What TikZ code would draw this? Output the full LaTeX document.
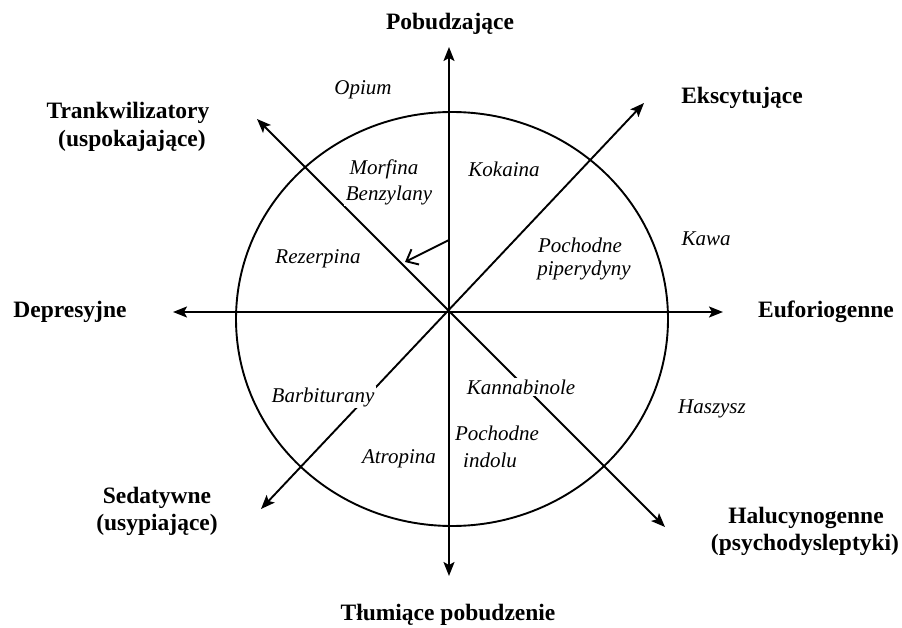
\documentclass[tikz,border=0pt]{standalone}
\usepackage{fontspec}
\setmainfont{Liberation Serif}
\usetikzlibrary{arrows.meta}
\begin{document}
\begin{tikzpicture}[x=1pt,y=-1pt,
  axis/.style={line width=1.9pt,{Stealth[length=14pt,width=11pt,inset=3pt]}-{Stealth[length=14pt,width=11pt,inset=3pt]}},
  ring/.style={line width=1.9pt},
  small/.style={line width=1.9pt,-{Straight Barb[length=10pt,width=17pt,line width=1.9pt]}},
  cat/.style={font=\fontsize{23.5}{27}\selectfont\bfseries, inner sep=0pt, align=center},
  drug/.style={font=\fontsize{21}{26}\selectfont\itshape, inner sep=1.5pt, fill=white, align=center}]
\useasboundingbox (0,0) rectangle (902,628);
% circle
\draw[ring] (452,319) ellipse [x radius=216, y radius=207];
% axis end points
\coordinate (C) at (449,312);
\coordinate (N) at (449,47);
\coordinate (S) at (449,576);
\coordinate (W) at (173,312);
\coordinate (E) at (723,312);
\coordinate (NW) at (257,119);
\coordinate (SE) at (665,527);
\coordinate (NE) at (644,103);
\coordinate (SW) at (261,509);
\draw[axis] (S) -- (N);
\draw[axis] (W) -- (E);
\draw[axis] (SE) -- (NW);
\draw[axis] (SW) -- (NE);
\coordinate (a1) at (449,240);
\coordinate (a2) at (405,262);
\draw[small] (a1) -- (a2);
% category labels
\node[cat] (pob) at (450,24) {Pobudzające};
\node[cat] (tr1) at (128,113) {Trankwilizatory};
\node[cat] (tr2) at (132,141) {(uspokajające)};
\node[cat] (eks) at (742,98) {Ekscytujące};
\node[cat] (dep) at (70,312) {Depresyjne};
\node[cat] (euf) at (826,312) {Euforiogenne};
\node[cat] (sed1) at (157,498) {Sedatywne};
\node[cat] (sed2) at (157,525) {(usypiające)};
\node[cat] (hal1) at (806,518) {Halucynogenne};
\node[cat] (hal2) at (805,545) {(psychodysleptyki)};
\node[cat] (tlu) at (448,615) {Tłumiące pobudzenie};
% drug labels
\node[drug] (opi) at (363,90) {Opium};
\node[drug] (mor) at (384,169) {Morfina};
\node[drug] (ben) at (389,195) {Benzylany};
\node[drug] (kok) at (504,169) {Kokaina};
\node[drug] (rez) at (318,259) {Rezerpina};
\node[drug] (poc1) at (580,245) {Pochodne};
\node[drug] (poc2) at (584,270) {piperydyny};
\node[drug] (kaw) at (706,239) {Kawa};
\node[drug] (bar) at (323,397) {Barbiturany};
\node[drug] (kan) at (521,387) {Kannabinole};
\node[drug] (has) at (712,409) {Haszysz};
\node[drug] (pin1) at (497,433) {Pochodne};
\node[drug] (pin2) at (490,460) {indolu};
\node[drug] (atr) at (399,459) {Atropina};
\end{tikzpicture}
\end{document}
